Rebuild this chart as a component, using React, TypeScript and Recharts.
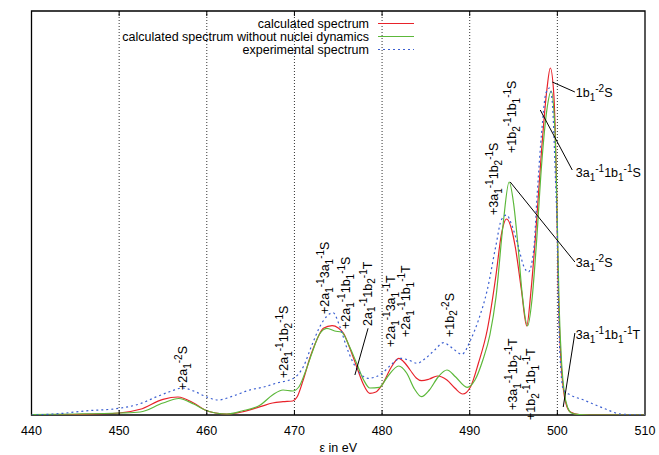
import React from "react";
import { LineChart, Line, XAxis, YAxis, CartesianGrid, ReferenceLine, ReferenceDot, ReferenceArea, Legend } from "recharts";

// [energy eV, intensity]
const calcSpectrum: [number, number][] = [
    [440, 0], [445, 0.5], [450, 2], [452.4, 5.7], [455, 15.7], [456.7, 18], [458.5, 12], [459.8, 5], [461, 2], [462.3, 1],
    [464, 3], [466.1, 8.3], [467.5, 12], [468.7, 13.3], [469.8, 14], [470.3, 18], [471, 35], [471.8, 58], [472.6, 76],
    [473.3, 86.7], [474.3, 89.3], [475, 87], [475.6, 81.7], [476.4, 65], [477.1, 48.3], [477.8, 32], [478.6, 21.7],
    [479.3, 23], [480, 30], [481, 47], [481.9, 56.7], [482.6, 52], [483.2, 45], [483.9, 37], [484.5, 34.3], [485.4, 36],
    [486.3, 39], [487.4, 35], [488.3, 27], [489.2, 21], [490.1, 28.3], [491, 52], [492, 85], [493, 140], [493.6, 180],
    [494.2, 196], [494.8, 185], [495.2, 168], [495.9, 125], [496.5, 89], [497, 125], [497.5, 178], [498.2, 265],
    [498.8, 325], [499.2, 347], [499.6, 320], [499.9, 230], [500.1, 130], [500.4, 55], [500.7, 25], [501.1, 8],
    [501.5, 3], [502.5, 0.5], [505, 0], [510, 0],
];

const noDynSpectrum: [number, number][] = [
    [440, 0.5], [445, 1], [450, 2], [452.4, 3], [455, 12], [456.8, 16.5], [458.5, 11], [459.8, 5], [461, 2], [462.3, 1],
    [464, 4], [466.1, 10], [467.5, 20], [468.7, 25], [469.8, 24], [470.5, 28], [471.2, 42], [472, 62], [472.8, 80],
    [473.7, 86.7], [474.6, 84], [475.4, 82.7], [476.2, 70], [477.1, 51.7], [477.9, 35], [478.6, 27], [479.7, 27.7],
    [480.6, 38], [481.9, 49], [482.8, 42], [483.7, 26], [484.5, 18.3], [485.4, 25], [486.4, 38], [487.4, 45], [488.4, 38],
    [489.7, 27.7], [490.6, 35], [491.5, 55], [492.3, 80], [493, 118], [493.8, 190], [494.5, 233], [495, 212], [495.5, 170],
    [496, 120], [496.6, 89], [497.1, 115], [497.6, 170], [498.2, 250], [498.8, 305], [499.3, 324], [499.7, 290],
    [500, 190], [500.2, 110], [500.5, 50], [500.8, 22], [501.2, 7], [501.6, 2], [502.5, 0.5], [505, 0], [510, 0],
];

const expSpectrum: [number, number][] = [
    [440, 0], [441.5, 0.5], [443.6, 1.7], [446, 4], [450, 6.7], [452.3, 11], [454.3, 18.3], [456, 24], [457.2, 27],
    [458.5, 24], [460, 18], [461.3, 15], [463, 19], [464.9, 25], [466.5, 28], [468, 32], [469.9, 36.7], [471, 48],
    [472, 70], [473, 90], [474.4, 102.3], [475.2, 88], [476, 66.7], [477.2, 45], [478.4, 36.7], [480, 41.7], [481, 50],
    [482.1, 56.7], [483, 55], [484, 51.7], [485, 57], [486, 65], [487, 72.3], [488, 67], [489.1, 60.7], [490.1, 75],
    [491, 95], [492, 125], [493, 170], [493.6, 195], [494.2, 200], [494.8, 190], [495.5, 170], [496.2, 148], [496.7, 143],
    [497.3, 165], [497.7, 221], [498.2, 282], [498.7, 322], [499.1, 327], [499.4, 315], [499.8, 232], [500, 178],
    [500.15, 100], [500.4, 45], [500.7, 25], [501.5, 20], [503, 15], [505.3, 6.7], [507.2, 1], [510, 0],
];

const energyTicks = [440, 450, 460, 470, 480, 490, 500, 510];
const gridTicks = [450, 460, 470, 480, 490, 500];

// "_x" = subscript, "^-n" = superscript
const verticalNotes = [
    { e: 457.75, v: 25, text: "+2a_1^-2S" },
    { e: 469.3, v: 37, text: "+2a_1^-11b_2^-1S" },
    { e: 473.96, v: 101, text: "+2a_1^-13a_1^-1S" },
    { e: 476.36, v: 86, text: "+2a_1^-11b_1^-1S" },
    { e: 478.85, v: 89, text: "2a_1^-11b_2^-1T" },
    { e: 481.5, v: 68, text: "+2a_1^-13a_1^-1T" },
    { e: 483.2, v: 78, text: "+2a_1^-11b_1^-1T" },
    { e: 488.2, v: 78, text: "+1b_2^-2S" },
    { e: 493.25, v: 200, text: "+3a_1^-11b_2^-1S" },
    { e: 495.3, v: 262, text: "+1b_2^-11b_1^-1S" },
    { e: 495.4, v: 5, text: "+3a_1^-11b_2^-1T" },
    { e: 497.5, v: -5, text: "+1b_2^-11b_1^-1T" },
];

const sideNotes = [
    { e: 502.1, v: 318, text: "1b_1^-2S" },
    { e: 502.1, v: 238, text: "3a_1^-11b_1^-1S" },
    { e: 502.1, v: 148, text: "3a_1^-2S" },
    { e: 502.1, v: 76, text: "3a_1^-11b_1^-1T" },
];

const leaders: [number, number, number, number][] = [
    [499.42, 333, 502.0, 323],
    [498.05, 305, 501.7, 245],
    [494.62, 233, 502.0, 153],
    [500.67, 8, 502.0, 82],
    [478.4, 86.7, 476.9, 40],
];

const series = [
    { name: "calculated spectrum", pts: calcSpectrum, color: "#e8222a", dash: undefined },
    { name: "calculated spectrum without nuclei dynamics", pts: noDynSpectrum, color: "#5cb83a", dash: undefined },
    { name: "experimental spectrum", pts: expSpectrum, color: "#3b5fd1", dash: "2 3" },
];

const FONT = '"Liberation Sans", Arial, Helvetica, sans-serif';
const FS = 12.5;
const SFS = 10;

function parse(s: string) {
    return s.split(/(_[0-9]|\^-?[0-9])/).filter(Boolean).map((tok) => {
        if (tok[0] === "_") return [tok.slice(1), 1] as const;
        if (tok[0] === "^") return [tok.slice(1), -1] as const;
        return [tok, 0] as const;
    });
}

function Formula({ text }: { text: string }) {
    let cur = 0;
    return (
        <>
            {parse(text).map(([t, k], i) => {
                const target = k === 1 ? 3.5 : k === -1 ? -5 : 0;
                const dy = target - cur;
                cur = target;
                return <tspan key={i} dy={dy} fontSize={k ? SFS : FS}>{t}</tspan>;
            })}
        </>
    );
}

const vLabel = (text: string) => (p: any) => (
    <text x={p.cx} y={p.cy} transform={`rotate(-90 ${p.cx} ${p.cy})`} fontSize={FS} fill="#000">
        <Formula text={text} />
    </text>
);

const hLabel = (text: string) => (p: any) => (
    <text x={p.cx} y={p.cy} fontSize={FS} fill="#000">
        <Formula text={text} />
    </text>
);

const LegendBox = () => (
    <svg width={659} height={60} style={{ fontFamily: FONT }}>
        {series.map((s, i) => {
            const y = 23.5 + 13 * i;
            return (
                <g key={s.name}>
                    <text x={369} y={y + 4.3} textAnchor="end" fontSize={FS} fill="#000">{s.name}</text>
                    <line x1={378} x2={414} y1={y} y2={y} stroke={s.color} strokeWidth={1.2} strokeDasharray={s.dash} />
                </g>
            );
        })}
    </svg>
);

export default function App() {
    return (
        <div style={{ position: "absolute", left: 0, top: 0, fontFamily: FONT, background: "#fff" }}>
            <LineChart width={659} height={455} margin={{ top: 11, right: 14, bottom: 10, left: 31.5 }}>
                <CartesianGrid horizontal={false} vertical verticalValues={gridTicks} stroke="#333" strokeDasharray="1 2" />
                <XAxis
                    dataKey="e"
                    type="number"
                    domain={[440, 510]}
                    ticks={energyTicks}
                    allowDataOverflow
                    axisLine={false}
                    tickLine={false}
                    tickSize={0}
                    tickMargin={0}
                    height={30}
                    tick={(p: any) => (
                        <text x={p.x} y={p.y + 20} textAnchor="middle" fontSize={FS} fill="#000">{p.payload.value}</text>
                    )}
                    label={(p: any) => (
                        <text x={p.viewBox.x + p.viewBox.width / 2} y={p.viewBox.y + 37} textAnchor="middle" fontSize={FS} fill="#000">ε in eV</text>
                    )}
                />
                <YAxis
                    type="number"
                    domain={[0, 404]}
                    allowDataOverflow
                    width={0}
                    tick={false}
                    axisLine={false}
                    tickLine={false}
                    label={(p: any) => {
                        const x = p.viewBox.x - 10;
                        const y = p.viewBox.y + p.viewBox.height / 2;
                        return (
                            <text x={x} y={y} transform={`rotate(-90 ${x} ${y})`} textAnchor="middle" fontSize={FS} fill="#000">
                                Intensity / arbitrary units
                            </text>
                        );
                    }}
                />
                <Legend
                    layout="horizontal"
                    verticalAlign="middle"
                    align="center"
                    content={() => <LegendBox />}
                    wrapperStyle={{ top: 0, left: 0, width: 659, height: 60 }}
                />
                {series.map((s) => (
                    <Line
                        key={s.name}
                        name={s.name}
                        data={s.pts.map(([e, v]) => ({ e, v }))}
                        dataKey="v"
                        type="monotone"
                        stroke={s.color}
                        strokeWidth={1.2}
                        strokeDasharray={s.dash}
                        dot={false}
                        activeDot={false}
                        isAnimationActive={false}
                    />
                ))}
                {gridTicks.map((t) => (
                    <ReferenceLine key={"b" + t} segment={[{ x: t, y: 0 }, { x: t, y: 5 }]} stroke="#000" />
                ))}
                {gridTicks.map((t) => (
                    <ReferenceLine key={"t" + t} segment={[{ x: t, y: 404 }, { x: t, y: 399 }]} stroke="#000" />
                ))}
                {leaders.map(([e1, v1, e2, v2], i) => (
                    <ReferenceLine key={"l" + i} segment={[{ x: e1, y: v1 }, { x: e2, y: v2 }]} stroke="#000" ifOverflow="visible" />
                ))}
                {verticalNotes.map((n) => (
                    <ReferenceDot key={n.text + n.e} x={n.e} y={n.v} r={0} ifOverflow="visible" shape={vLabel(n.text)} />
                ))}
                {sideNotes.map((n) => (
                    <ReferenceDot key={n.text} x={n.e} y={n.v} r={0} ifOverflow="visible" shape={hLabel(n.text)} />
                ))}
                <ReferenceArea x1={440} x2={510} y1={0} y2={404} fill="none" stroke="#000" strokeWidth={1.3} />
            </LineChart>
        </div>
    );
}
